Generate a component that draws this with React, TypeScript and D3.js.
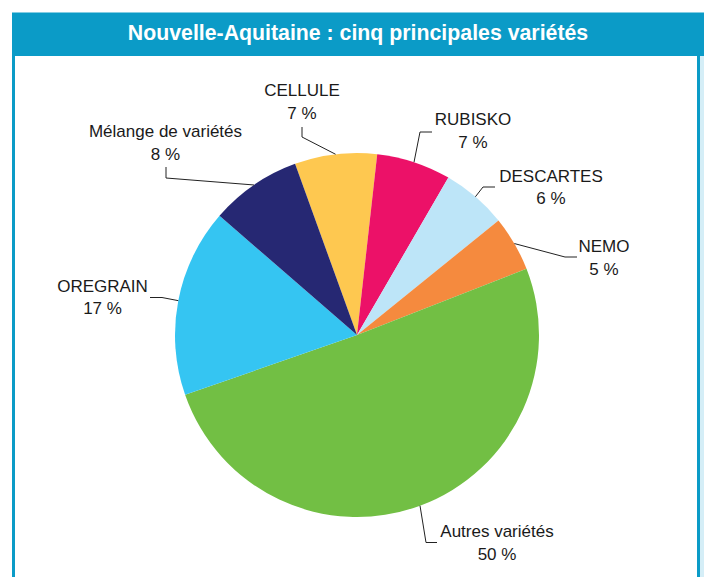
import React from 'react';
import * as d3 from 'd3';

// slices clockwise, starting at the Cellule slice
const varieties = ['CELLULE', 'RUBISKO', 'DESCARTES', 'NEMO', 'Autres variétés', 'OREGRAIN', 'Mélange de variétés'];
const shares = [7.3, 6.6, 5.8, 4.9, 50.6, 16.7, 8.1];
const shareLabels = ['7 %', '7 %', '6 %', '5 %', '50 %', '17 %', '8 %'];
const sliceColors = ['#FEC850', '#EC1168', '#BDE5F8', '#F58A3E', '#72BF44', '#35C5F2', '#262873'];

const TITLE = 'Nouvelle-Aquitaine : cinq principales variétés';

// label placement (text centre x, first baseline y) and leader elbow points
const labelLayout: Record<string, { x: number; y: number; line: [number, number][] }> = {
  'CELLULE': { x: 302, y: 96, line: [[302, 127], [302, 137]] },
  'RUBISKO': { x: 473, y: 125, line: [[432, 132], [420, 132]] },
  'DESCARTES': { x: 551, y: 181.5, line: [[495, 187], [483, 187]] },
  'NEMO': { x: 604, y: 252, line: [[577, 257], [565, 257]] },
  'Autres variétés': { x: 497, y: 537, line: [[437, 542.5], [426, 542.5]] },
  'OREGRAIN': { x: 102.5, y: 291.5, line: [[150, 297.5], [162, 297.5]] },
  'Mélange de variétés': { x: 165.5, y: 137, line: [[166, 167], [166, 178]] },
};

const W = 704;
const H = 577;
const cx = 357;
const cy = 335;
const R = 182;
const frameColor = '#0B9BC7';
const font = '"Liberation Sans", Arial, sans-serif';

export default function App() {
  const pie = d3.pie<number>().sort(null).value(d => d)
    .startAngle(-19.9 * Math.PI / 180)
    .endAngle(-19.9 * Math.PI / 180 + 2 * Math.PI);
  const arcs = pie(shares);
  const arcGen = d3.arc<d3.PieArcDatum<number>>().innerRadius(0).outerRadius(R);
  const line = d3.line();

  return (
    <svg width={W} height={H} style={{ position: 'absolute', left: 0, top: 0, background: '#fff' }}>
      {/* frame */}
      <rect x={12} y={12.5} width={W - 12} height={43.5} fill={frameColor} />
      <rect x={12} y={55} width={3} height={H - 55} fill={frameColor} />
      <rect x={697} y={55} width={3} height={H - 55} fill={frameColor} />
      <rect x={700} y={56} width={4} height={H - 56} fill="#d5eef7" />
      <text x={358} y={40} textAnchor="middle" fill="#fff" fontFamily={font}
        fontWeight="bold" fontSize={21.3}>{TITLE}</text>

      <g transform={`translate(${cx},${cy})`}>
        {arcs.map((a, i) => (
          <path key={varieties[i]} d={arcGen(a) || ''} fill={sliceColors[i]} />
        ))}
      </g>

      {arcs.map((a, i) => {
        const name = varieties[i];
        const lay = labelLayout[name];
        const mid = (a.startAngle + a.endAngle) / 2;
        const anchor: [number, number] = [cx + R * Math.sin(mid), cy - R * Math.cos(mid)];
        const pts: [number, number][] = [...lay.line, anchor];
        return (
          <g key={name}>
            <path d={line(pts) || ''} fill="none" stroke="#222" strokeWidth={1} />
            <text x={lay.x} y={lay.y} textAnchor="middle" fontFamily={font} fontSize={17} fill="#1a1a1a">
              {name}
            </text>
            <text x={lay.x} y={lay.y + 22.5} textAnchor="middle" fontFamily={font} fontSize={17} fill="#1a1a1a">
              {shareLabels[i]}
            </text>
          </g>
        );
      })}
    </svg>
  );
}
